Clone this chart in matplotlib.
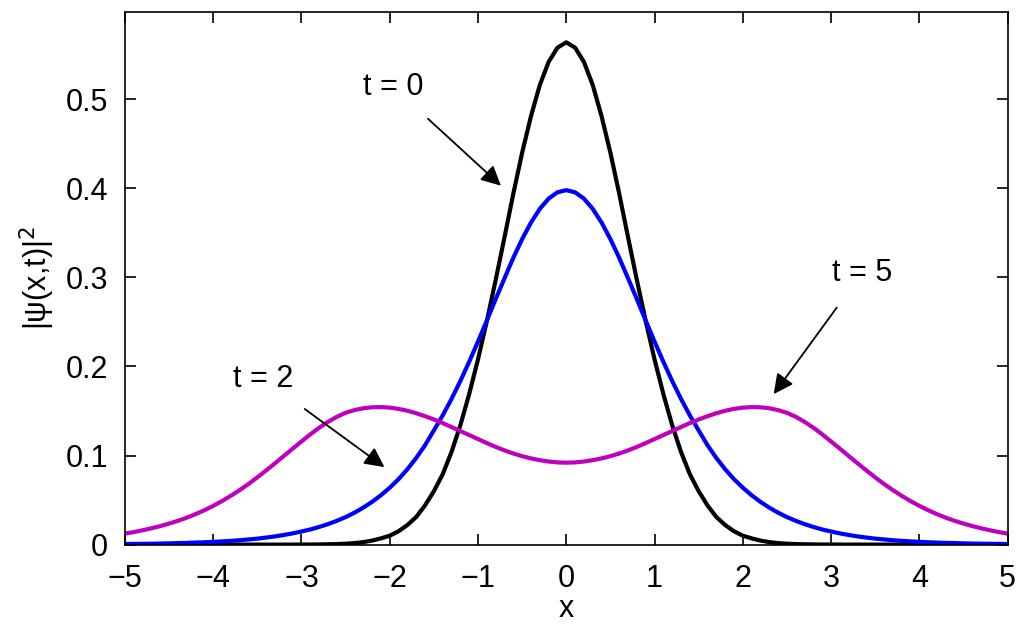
import matplotlib
matplotlib.use("Agg")
import matplotlib.pyplot as plt
import numpy as np

plt.rcParams['font.family'] = ['Liberation Sans', 'DejaVu Sans']

# sample positions: -5 .. 5 in steps of 0.1
x = np.linspace(-5, 5, 101)

# |psi|^2 values at those positions
t0 = [0, 0, 0, 0, 0, 0, 0, 0, 0, 0, 0, 0, 0, 0, 0, 0, 0, 0, 0, 0,
      0.0001, 0.0001, 0.0002, 0.0004, 0.0006, 0.0010, 0.0017, 0.0028, 0.0045, 0.0070,
      0.010, 0.015, 0.022, 0.031, 0.044, 0.060, 0.079, 0.104, 0.134, 0.169,
      0.208, 0.251, 0.297, 0.345, 0.394, 0.440, 0.481, 0.516, 0.542, 0.558,
      0.564,
      0.558, 0.542, 0.516, 0.481, 0.440, 0.394, 0.345, 0.297, 0.251, 0.208,
      0.169, 0.134, 0.104, 0.079, 0.060, 0.044, 0.031, 0.022, 0.015, 0.010,
      0.0070, 0.0045, 0.0028, 0.0017, 0.0010, 0.0006, 0.0004, 0.0002, 0.0001, 0.0001,
      0, 0, 0, 0, 0, 0, 0, 0, 0, 0, 0, 0, 0, 0, 0, 0, 0, 0, 0, 0]

t2 = [0.0007, 0.0008, 0.0009, 0.0010, 0.0012, 0.0014, 0.0017, 0.0019, 0.0023, 0.0026,
      0.0031, 0.0036, 0.0042, 0.0049, 0.0058, 0.0067, 0.0079, 0.0092, 0.0108, 0.0126,
      0.0147, 0.0170, 0.0198, 0.0230, 0.0267, 0.0309, 0.0358, 0.0415, 0.0480, 0.0554,
      0.0639, 0.0735, 0.0846, 0.0973, 0.1116, 0.1282, 0.1451, 0.1636, 0.1837, 0.2053,
      0.228, 0.2516, 0.2756, 0.299, 0.322, 0.343, 0.3616, 0.377, 0.3885, 0.3956,
      0.398,
      0.3956, 0.3885, 0.377, 0.3616, 0.343, 0.322, 0.299, 0.2756, 0.2516, 0.228,
      0.2053, 0.1837, 0.1636, 0.1451, 0.1282, 0.1116, 0.0973, 0.0846, 0.0735, 0.0639,
      0.0554, 0.0480, 0.0415, 0.0358, 0.0309, 0.0267, 0.0230, 0.0198, 0.0170, 0.0147,
      0.0126, 0.0108, 0.0092, 0.0079, 0.0067, 0.0058, 0.0049, 0.0042, 0.0036, 0.0031,
      0.0026, 0.0023, 0.0019, 0.0017, 0.0014, 0.0012, 0.0010, 0.0009, 0.0008, 0.0007]

t5 = [0.0123, 0.0141, 0.0161, 0.0183, 0.0208, 0.0236, 0.0267, 0.0302, 0.0342, 0.0386,
      0.0435, 0.0489, 0.0548, 0.0612, 0.0681, 0.0755, 0.0833, 0.0913, 0.0995, 0.1077,
      0.1158, 0.1238, 0.1312, 0.1378, 0.1435, 0.148, 0.151, 0.1531, 0.1542, 0.1544,
      0.1538, 0.1524, 0.1503, 0.1475, 0.1442, 0.1405, 0.1365, 0.132, 0.1275, 0.123,
      0.1185, 0.114, 0.1097, 0.1058, 0.1023, 0.0993, 0.0968, 0.0948, 0.0933, 0.0923,
      0.092,
      0.0923, 0.0933, 0.0948, 0.0968, 0.0993, 0.1023, 0.1058, 0.1097, 0.114, 0.1185,
      0.123, 0.1275, 0.132, 0.1365, 0.1405, 0.1442, 0.1475, 0.1503, 0.1524, 0.1538,
      0.1544, 0.1542, 0.1531, 0.151, 0.148, 0.1435, 0.1378, 0.1312, 0.1238, 0.1158,
      0.1077, 0.0995, 0.0913, 0.0833, 0.0755, 0.0681, 0.0612, 0.0548, 0.0489, 0.0435,
      0.0386, 0.0342, 0.0302, 0.0267, 0.0236, 0.0208, 0.0183, 0.0161, 0.0141, 0.0123]

fig = plt.figure(figsize=(10.24, 6.34), dpi=100)
ax = fig.add_axes([0.122, 0.141, 0.862, 0.840])

ax.plot(x, t0, color='black', lw=3)
ax.plot(x, t2, color='#0000ff', lw=3)
ax.plot(x, t5, color='#bf00bf', lw=3)

# labels with arrows pointing at the curves
arrow = dict(arrowstyle='-|>', color='black', lw=1.3, mutation_scale=30,
             shrinkA=15, shrinkB=0)
ax.annotate('t = 0', xy=(-0.74, 0.403), xytext=(-1.96, 0.514), fontsize=22,
            ha='center', va='center', arrowprops=arrow)
ax.annotate('t = 2', xy=(-2.06, 0.087), xytext=(-3.43, 0.186), fontsize=22,
            ha='center', va='center', arrowprops=arrow)
ax.annotate('t = 5', xy=(2.35, 0.169), xytext=(3.35, 0.305), fontsize=22,
            ha='center', va='center', arrowprops=arrow)

ax.set_xlim(-5, 5)
ax.set_ylim(0, 0.598)
ax.set_xticks(range(-5, 6))
ax.set_yticks([0, 0.1, 0.2, 0.3, 0.4, 0.5])
ax.set_yticklabels(['0', '0.1', '0.2', '0.3', '0.4', '0.5'])
ax.tick_params(direction='in', length=8, width=1.2, labelsize=22,
               top=True, right=True)
ax.tick_params(axis='x', pad=14)
ax.tick_params(axis='y', pad=12)
for s in ax.spines.values():
    s.set_linewidth(1.2)

ax.set_xlabel('x', fontsize=22, labelpad=0)
ax.set_ylabel(r'|ψ(x,t)|$^2$', fontsize=22, labelpad=6)

fig.savefig('out.png', dpi=100)
